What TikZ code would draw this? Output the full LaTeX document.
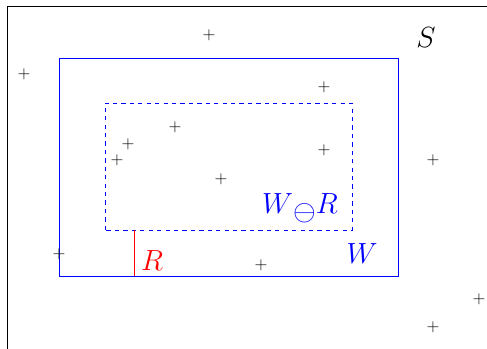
\documentclass[tikz,border=0pt]{standalone}

\begin{document}
\begin{tikzpicture}
        \useasboundingbox (0,0) rectangle (12.175,8.725);

        % prostor S
        \draw (0.175,0) -- (0.175,8.575) -- (12.175,8.575);
        \node (s) at (10.65,7.775) {\huge $S$};

        % okna
        \draw[blue] (1.475,1.825) rectangle (9.95,7.275);
        \draw[blue, dashed] (2.625,2.975) rectangle (8.8,6.15);
        \coordinate (rtop) at (3.35,2.975);
        \coordinate (rbot) at (3.35,1.825);
        \draw[red] (rtop) -- (rbot);

        % popisky
        \node[blue] (w) at (9.05,2.375) {\huge $W$};
        \node[blue] (wr) at (7.5,3.525) {\huge $W\raisebox{-5pt}{$\ominus$}R$};
        \node[red] (r) at (3.8,2.2) {\huge $R$};

        % body
        \foreach \x/\y [count=\i] in {5.225/7.85, 0.6/6.875, 8.1/6.55, 4.375/5.55,
                3.2/5.125, 2.925/4.725, 8.1/4.975, 10.825/4.725, 5.525/4.25,
                1.475/2.375, 6.525/2.1, 11.975/1.25, 10.825/0.55}
            \node[inner sep=0pt] (p\i) at (\x,\y) {\large $+$};
    \end{tikzpicture}
\end{document}
